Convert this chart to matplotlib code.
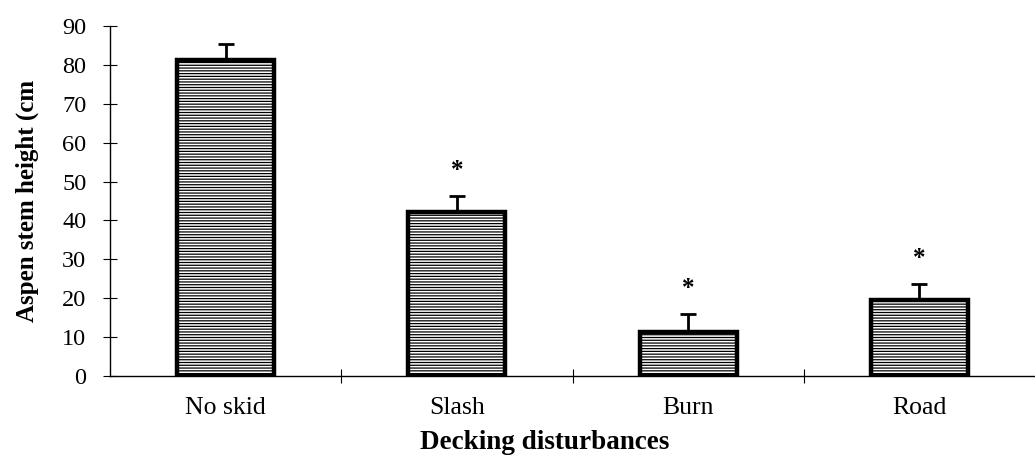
import numpy as np
import matplotlib
matplotlib.use('Agg')
import matplotlib.pyplot as plt

# data
categories = ['No skid', 'Slash', 'Burn', 'Road']
heights = [81.3, 42.2, 11.4, 19.6]
errors = [4.2, 4.2, 4.5, 4.0]
significant = [False, True, True, True]
yticks = [0, 10, 20, 30, 40, 50, 60, 70, 80, 90]

plt.rcParams['font.family'] = 'Liberation Serif'
plt.rcParams['hatch.linewidth'] = 0.9
plt.rcParams['hatch.color'] = 'black'

fig = plt.figure(figsize=(10.35, 4.62), dpi=100)
ax = fig.add_axes([110/1035, 86/462, 925/1035, 350/462])

x = np.arange(len(categories))
ax.bar(x, heights, width=0.42, color='white', edgecolor='black',
       linewidth=3.2, hatch='------', zorder=2)

# upper error bars only
lower = np.zeros(len(errors))
ax.errorbar(x, heights, yerr=[lower, errors], fmt='none', ecolor='black',
            elinewidth=2, capsize=6, capthick=2, zorder=3)

for i in range(0, len(categories)):
    if significant[i]:
        ax.text(x[i], heights[i] + errors[i] + 6.5, '*', ha='center', va='center',
                fontsize=18, fontweight='bold')

ax.set_xlim(-0.5, len(categories) - 0.5)
ax.set_ylim(0, 90)
ax.set_yticks(yticks)
ax.set_yticklabels([str(v) for v in yticks], fontsize=17.5)

ax.set_xticks(x)
ax.set_xticklabels(categories, fontsize=18.5)
ax.tick_params(axis='x', which='major', length=0, pad=15)
ax.set_xticks(x[:-1] + 0.5, minor=True)
ax.tick_params(axis='x', which='minor', direction='inout', length=10, width=0.8)
ax.tick_params(axis='y', direction='inout', length=10, width=0.8, pad=12)

ax.spines['top'].set_visible(False)
ax.spines['right'].set_visible(False)
ax.spines['left'].set_linewidth(1.0)
ax.spines['bottom'].set_linewidth(1.0)

ax.set_ylabel('Aspen stem height (cm', fontsize=18, fontweight='bold')
ax.yaxis.set_label_coords(-0.077, 0.5)
ax.set_xlabel('Decking disturbances', fontsize=19.5, fontweight='bold')
ax.xaxis.set_label_coords(0.47, -0.155)

fig.savefig('out.png', dpi=100)
plt.close(fig)
